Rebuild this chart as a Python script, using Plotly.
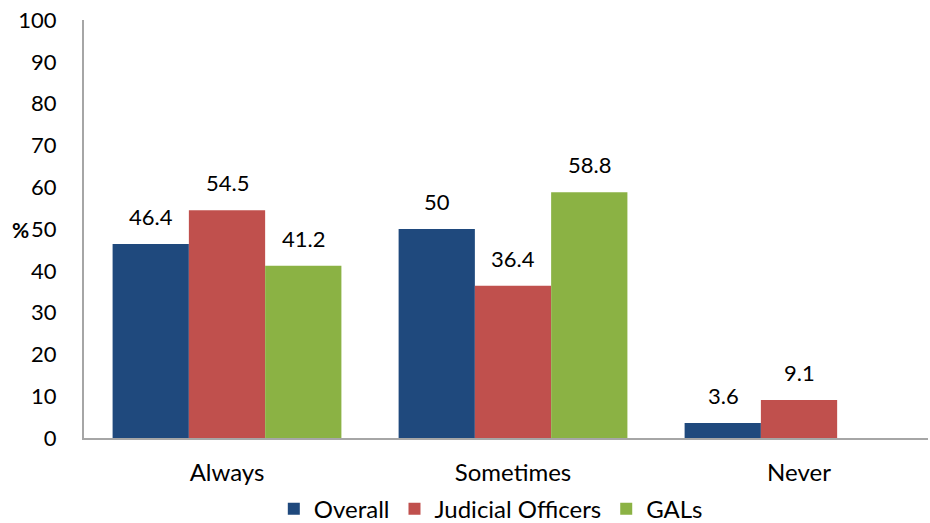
import plotly.graph_objects as go

categories = ['Always', 'Sometimes', 'Never']
overall = [46.4, 50, 3.6]
judicial = [54.5, 36.4, 9.1]
gals = [41.2, 58.8, None]

series = [
    ('Overall', overall, '#1F497D'),
    ('Judicial Officers', judicial, '#C0504D'),
    ('GALs', gals, '#8BB244'),
]

font = 'Lato, Open Sans, sans-serif'

fig = go.Figure()
for name, vals, col in series:
    fig.add_trace(go.Bar(x=categories, y=vals, name=name, marker_color=col,
                         marker_line_width=0))

# value labels above bars
shifts = [-76, 0, 76]
for (name, vals, col), xs in zip(series, shifts):
    for cat, v in zip(categories, vals):
        if v is None:
            continue
        fig.add_annotation(x=cat, y=v, text=str(v), showarrow=False,
                           xshift=xs, yshift=12, yanchor='bottom',
                           font=dict(size=22, color='#000', family=font))

fig.add_annotation(text='<b>%</b>', xref='paper', yref='paper', x=-0.075, y=0.5,
                   xanchor='center', showarrow=False,
                   font=dict(size=21, color='#000', family=font))

fig.update_layout(
    width=930, height=523,
    margin=dict(l=84, r=2, t=20, b=85, autoexpand=False),
    plot_bgcolor='white', paper_bgcolor='white',
    barmode='group', bargap=0.2, bargroupgap=0,
    font=dict(family=font, size=22, color='#000'),
    legend=dict(orientation='h', x=0.482, xanchor='center', y=-0.17, yanchor='middle',
                font=dict(size=24), itemwidth=30, traceorder='normal'),
    xaxis=dict(range=[-0.5, 2.451], showline=True, linecolor='#A6A6A6', linewidth=2,
               ticks='', showgrid=False, tickfont=dict(size=24), automargin=False,
               ticklabelstandoff=12),
    yaxis=dict(range=[0, 100], dtick=10, showline=True, linecolor='#A6A6A6', linewidth=2,
               ticks='', showgrid=False, zeroline=False, tickfont=dict(size=22),
               ticklabelstandoff=21, automargin=False),
)

# drop the default 8px body margin so the figure sits at the page corner
fig.write_html('out.html', config={'displayModeBar': False},
               post_script="document.body.style.margin='0';")
